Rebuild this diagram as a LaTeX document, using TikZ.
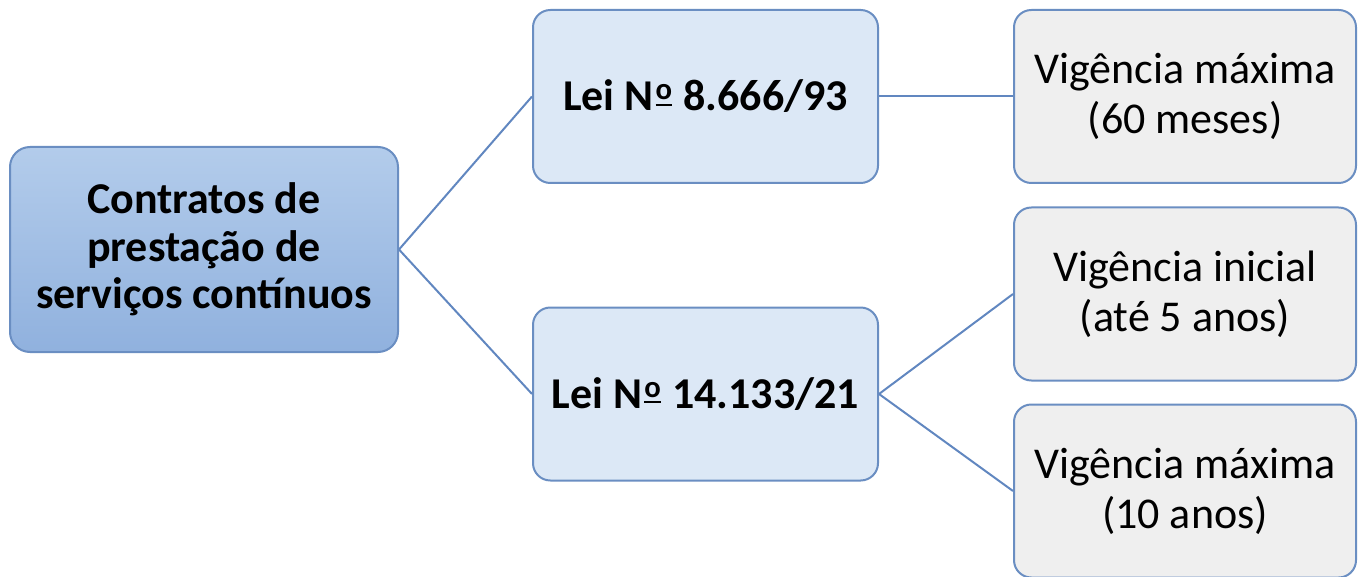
\documentclass[tikz,border=0pt]{standalone}
\usepackage{fontspec}
\setmainfont{Carlito}
\usepackage{tikz}
\usetikzlibrary{positioning}

\definecolor{edgeblue}{HTML}{6A8EC2}
\definecolor{lineblue}{HTML}{6187C0}
\definecolor{leifill}{HTML}{DCE8F6}
\definecolor{vigfill}{HTML}{EFEFEF}
\definecolor{roottop}{HTML}{B3CCEB}
\definecolor{rootbot}{HTML}{90B1DE}

% numero sign with the underlined ordinal o
\newcommand{\numsign}{N\kern1.5pt\raisebox{3.8pt}{\fontsize{23}{23}\selectfont\bfseries\vbox{\hbox{o}\kern3pt\hrule height 1.6pt}}\kern1pt}

\begin{document}
\begin{tikzpicture}[x=0.75pt, y=-0.75pt, font=\fontsize{33}{37.5}\selectfont,
	rootbox/.style={draw=edgeblue, line width=1.5pt, rounded corners=15pt, top color=roottop, bottom color=rootbot, align=center, minimum width=291pt, minimum height=153.75pt, font=\fontsize{33}{35.6}\selectfont\bfseries},
	leibox/.style={draw=edgeblue, line width=1.5pt, rounded corners=13pt, fill=leifill, align=center, minimum width=258.75pt, minimum height=129.75pt, font=\fontsize{33}{37.5}\selectfont\bfseries},
	vigbox/.style={draw=edgeblue, line width=1.5pt, rounded corners=13pt, fill=vigfill, align=center, minimum width=256.5pt, minimum height=129.75pt},
	link/.style={draw=lineblue, line width=1.5pt}]
	\useasboundingbox (0,0) rectangle (1359,577);

	% Root on the left, the two laws in the middle column
	\node[rootbox] (contratos) at (204,249.5) {Contratos de\\prestação de\\serviços contínuos};
	\node[leibox] (lei8666) at (705.5,96.5) {Lei \numsign{} 8.666/93};
	\node[leibox] (lei14133) at (705.5,394) {Lei \numsign{} 14.133/21};

	% Terms in force, right column
	\node[vigbox] (max60) at (1185,96.5) {Vigência máxima\\(60 meses)};
	\node[vigbox] (inicial) at (1185,294) {Vigência inicial\\(até 5 anos)};
	\node[vigbox] (max10) at (1185,491) {Vigência máxima\\(10 anos)};

	% Connectors
	\draw[link] (contratos.east) -- (lei8666.west);
	\draw[link] (contratos.east) -- (lei14133.west);
	\draw[link] (lei8666.east) -- (max60.west);
	\draw[link] (lei14133.east) -- (inicial.west);
	\draw[link] (lei14133.east) -- (max10.west);
\end{tikzpicture}
\end{document}
